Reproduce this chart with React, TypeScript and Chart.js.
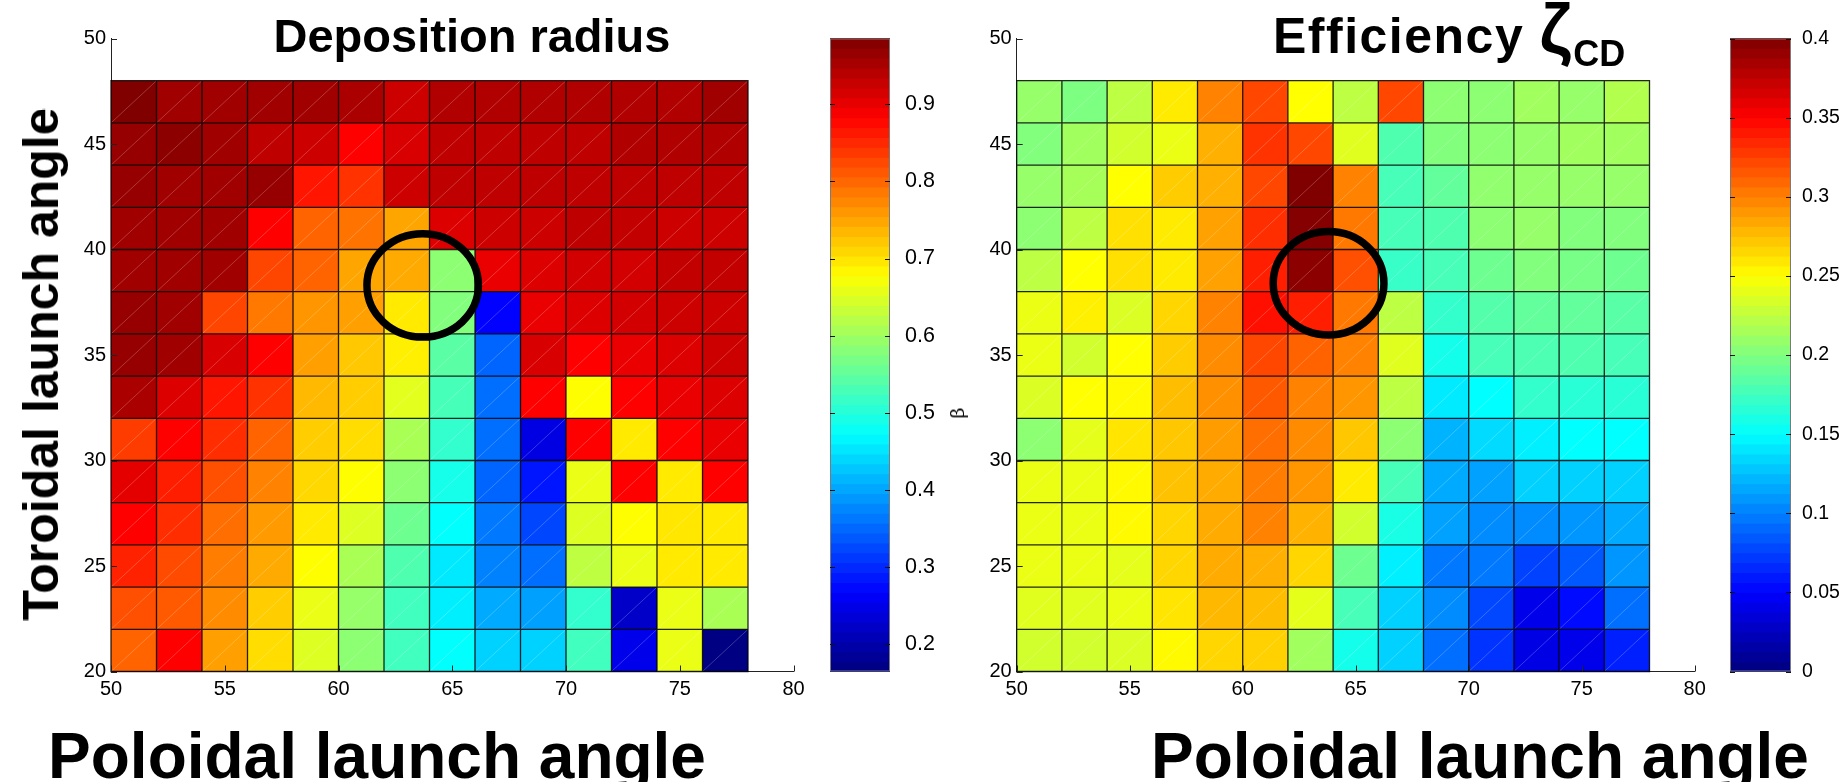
import React, { useEffect, useRef } from "react";
import { Chart, registerables } from "chart.js";

Chart.register(...registerables);

// ---------------- data ----------------
const polAngles = [50, 52, 54, 56, 58, 60, 62, 64, 66, 68, 70, 72, 74, 76]; // cell start (deg)
const torAngles = [46, 44, 42, 40, 38, 36, 34, 32, 30, 28, 26, 24, 22, 20]; // cell start, top -> bottom
const cellStep = 2;

const xTicks = [50, 55, 60, 65, 70, 75, 80];
const yTicks = [20, 25, 30, 35, 40, 45, 50];

const depositionRadius = [
  [0.985, 0.959, 0.959, 0.959, 0.959, 0.951, 0.923, 0.946, 0.946, 0.946, 0.946, 0.946, 0.946, 0.959],
  [0.967, 0.975, 0.959, 0.935, 0.923, 0.883, 0.914, 0.935, 0.935, 0.935, 0.935, 0.946, 0.946, 0.946],
  [0.967, 0.959, 0.959, 0.967, 0.866, 0.842, 0.923, 0.935, 0.935, 0.935, 0.935, 0.935, 0.935, 0.935],
  [0.959, 0.959, 0.959, 0.883, 0.802, 0.790, 0.750, 0.910, 0.923, 0.923, 0.935, 0.931, 0.923, 0.923],
  [0.959, 0.959, 0.959, 0.826, 0.802, 0.750, 0.746, 0.585, 0.899, 0.910, 0.919, 0.919, 0.931, 0.931],
  [0.967, 0.959, 0.826, 0.786, 0.762, 0.754, 0.694, 0.577, 0.268, 0.899, 0.910, 0.919, 0.923, 0.923],
  [0.967, 0.959, 0.914, 0.883, 0.754, 0.722, 0.690, 0.545, 0.348, 0.914, 0.883, 0.899, 0.910, 0.923],
  [0.951, 0.910, 0.866, 0.842, 0.734, 0.718, 0.654, 0.529, 0.356, 0.883, 0.678, 0.883, 0.899, 0.910],
  [0.834, 0.883, 0.846, 0.802, 0.718, 0.705, 0.609, 0.513, 0.356, 0.244, 0.883, 0.694, 0.883, 0.899],
  [0.903, 0.859, 0.819, 0.778, 0.709, 0.678, 0.585, 0.489, 0.348, 0.284, 0.661, 0.883, 0.694, 0.883],
  [0.883, 0.846, 0.794, 0.758, 0.694, 0.650, 0.561, 0.473, 0.364, 0.324, 0.650, 0.678, 0.697, 0.694],
  [0.855, 0.822, 0.782, 0.746, 0.678, 0.609, 0.536, 0.456, 0.372, 0.356, 0.625, 0.661, 0.694, 0.694],
  [0.819, 0.810, 0.770, 0.718, 0.661, 0.593, 0.525, 0.460, 0.404, 0.396, 0.513, 0.223, 0.661, 0.609],
  [0.802, 0.883, 0.754, 0.705, 0.650, 0.585, 0.525, 0.473, 0.436, 0.436, 0.525, 0.251, 0.661, 0.167],
];

const efficiencyZeta = [
  [0.209, 0.199, 0.224, 0.258, 0.299, 0.322, 0.250, 0.224, 0.322, 0.205, 0.205, 0.213, 0.209, 0.220],
  [0.201, 0.213, 0.232, 0.242, 0.281, 0.330, 0.322, 0.238, 0.181, 0.201, 0.205, 0.209, 0.213, 0.213],
  [0.209, 0.215, 0.250, 0.270, 0.281, 0.322, 0.400, 0.299, 0.178, 0.189, 0.207, 0.209, 0.209, 0.209],
  [0.205, 0.224, 0.262, 0.258, 0.287, 0.332, 0.398, 0.303, 0.178, 0.181, 0.205, 0.209, 0.201, 0.201],
  [0.224, 0.250, 0.262, 0.258, 0.287, 0.338, 0.395, 0.319, 0.172, 0.178, 0.193, 0.201, 0.197, 0.193],
  [0.242, 0.256, 0.236, 0.266, 0.299, 0.344, 0.338, 0.303, 0.224, 0.170, 0.183, 0.189, 0.189, 0.185],
  [0.242, 0.232, 0.250, 0.270, 0.295, 0.322, 0.311, 0.299, 0.238, 0.158, 0.178, 0.180, 0.181, 0.178],
  [0.236, 0.250, 0.252, 0.276, 0.293, 0.315, 0.299, 0.291, 0.224, 0.142, 0.150, 0.170, 0.166, 0.166],
  [0.205, 0.240, 0.260, 0.272, 0.289, 0.307, 0.295, 0.272, 0.205, 0.120, 0.136, 0.144, 0.150, 0.150],
  [0.242, 0.242, 0.252, 0.274, 0.283, 0.301, 0.291, 0.258, 0.178, 0.117, 0.113, 0.132, 0.132, 0.132],
  [0.242, 0.242, 0.252, 0.266, 0.283, 0.299, 0.280, 0.232, 0.160, 0.113, 0.105, 0.105, 0.109, 0.117],
  [0.242, 0.242, 0.240, 0.266, 0.283, 0.281, 0.266, 0.193, 0.144, 0.097, 0.097, 0.076, 0.085, 0.109],
  [0.238, 0.238, 0.242, 0.260, 0.278, 0.276, 0.240, 0.178, 0.132, 0.105, 0.078, 0.042, 0.054, 0.093],
  [0.232, 0.232, 0.236, 0.252, 0.266, 0.268, 0.213, 0.158, 0.132, 0.093, 0.070, 0.040, 0.042, 0.062],
];

const depRange = [0.165, 0.985];
const effRange = [0, 0.4];
const depCbTicks = [0.2, 0.3, 0.4, 0.5, 0.6, 0.7, 0.8, 0.9];
const effCbTicks = [0, 0.05, 0.1, 0.15, 0.2, 0.25, 0.3, 0.35, 0.4];
// highlight circles: [centre pol, centre tor, radius] in degrees
const depCircle = [63.7, 38.3, 2.45];
const effCircle = [63.8, 38.4, 2.45];

// ---------------- layout ----------------
const W = 1839;
const H = 782;
const AREA_TOP = 38.5;
const AREA_BOTTOM = 671.5;

const tickFont = { family: "'Liberation Sans', Arial, sans-serif", size: 20 };

function jet(t: number): string {
  t = Math.max(0, Math.min(1, t));
  const c = (v: number) => Math.round(255 * Math.max(0, Math.min(1, v)));
  return `rgb(${c(1.5 - Math.abs(4 * t - 3))},${c(1.5 - Math.abs(4 * t - 2))},${c(1.5 - Math.abs(4 * t - 1))})`;
}

function cellPoints(values: number[][]) {
  const pts: { x: number; y: number; v: number }[] = [];
  torAngles.forEach((ty, r) =>
    polAngles.forEach((px, c) => pts.push({ x: px + cellStep / 2, y: ty + cellStep / 2, v: values[r][c] }))
  );
  return pts;
}

const heatPlugin = {
  id: "heat",
  beforeDatasetsDraw(chart: any, _a: any, opts: any) {
    const { ctx } = chart;
    const xs = chart.scales.x;
    const ys = chart.scales.y;
    const pts = chart.data.datasets[0].data;
    const half = cellStep / 2;
    ctx.save();
    pts.forEach((p: any) => {
      const x0 = xs.getPixelForValue(p.x - half);
      const x1 = xs.getPixelForValue(p.x + half);
      const y0 = ys.getPixelForValue(p.y + half);
      const y1 = ys.getPixelForValue(p.y - half);
      ctx.fillStyle = jet((p.v - opts.lo) / (opts.hi - opts.lo));
      ctx.fillRect(x0, y0, x1 - x0, y1 - y0);
    });
    // faint triangle diagonals
    ctx.strokeStyle = "rgba(255,255,255,0.22)";
    ctx.lineWidth = 1;
    ctx.beginPath();
    pts.forEach((p: any) => {
      ctx.moveTo(xs.getPixelForValue(p.x - half), ys.getPixelForValue(p.y - half));
      ctx.lineTo(xs.getPixelForValue(p.x + half), ys.getPixelForValue(p.y + half));
    });
    ctx.stroke();
    // cell edges
    ctx.strokeStyle = "rgba(0,0,0,0.85)";
    ctx.lineWidth = 1.3;
    ctx.beginPath();
    pts.forEach((p: any) => {
      const x0 = xs.getPixelForValue(p.x - half);
      const x1 = xs.getPixelForValue(p.x + half);
      const y0 = ys.getPixelForValue(p.y + half);
      const y1 = ys.getPixelForValue(p.y - half);
      ctx.rect(x0, y0, x1 - x0, y1 - y0);
    });
    ctx.stroke();
    ctx.restore();
  },
  afterDatasetsDraw(chart: any, _a: any, opts: any) {
    const { ctx } = chart;
    const xs = chart.scales.x;
    const ys = chart.scales.y;
    const [cx, cy, r] = opts.circle;
    const px = xs.getPixelForValue(cx);
    const py = ys.getPixelForValue(cy);
    const rx = Math.abs(xs.getPixelForValue(cx + r) - px);
    const ry = Math.abs(ys.getPixelForValue(cy + r) - py);
    ctx.save();
    ctx.strokeStyle = "#000";
    ctx.lineWidth = 7.5;
    ctx.beginPath();
    ctx.ellipse(px, py, rx, ry, 0, 0, Math.PI * 2);
    ctx.stroke();
    // inward tick marks
    const area = chart.chartArea;
    ctx.lineWidth = 1;
    ctx.strokeStyle = "#222";
    ctx.beginPath();
    xTicks.forEach((v) => {
      const x = Math.round(xs.getPixelForValue(v)) + 0.5;
      ctx.moveTo(x, area.bottom);
      ctx.lineTo(x, area.bottom - 6);
    });
    yTicks.forEach((v) => {
      const y = Math.round(ys.getPixelForValue(v)) + 0.5;
      ctx.moveTo(area.left, y);
      ctx.lineTo(area.left + 6, y);
    });
    ctx.stroke();
    ctx.restore();
  },
};

const cbPlugin = {
  id: "cbar",
  beforeDatasetsDraw(chart: any, _a: any, opts: any) {
    const { ctx, chartArea: a } = chart;
    const ys = chart.scales.y;
    const n = 64;
    ctx.save();
    for (let i = 0; i < n; i++) {
      const v0 = opts.lo + ((opts.hi - opts.lo) * i) / n;
      const v1 = opts.lo + ((opts.hi - opts.lo) * (i + 1)) / n;
      const yb = ys.getPixelForValue(v0);
      const yt = ys.getPixelForValue(v1);
      ctx.fillStyle = jet((i + 0.5) / n);
      ctx.fillRect(a.left, yt - 0.5, a.right - a.left, yb - yt + 1);
    }
    ctx.strokeStyle = "#7a7a7a";
    ctx.lineWidth = 1;
    ctx.strokeRect(a.left + 0.5, a.top + 0.5, a.right - a.left - 1, a.bottom - a.top - 1);
    ctx.strokeStyle = "#111";
    ctx.beginPath();
    opts.ticks.forEach((v: number) => {
      const y = Math.round(ys.getPixelForValue(v)) + 0.5;
      ctx.moveTo(a.left, y);
      ctx.lineTo(a.left + 5, y);
      ctx.moveTo(a.right, y);
      ctx.lineTo(a.right - 5, y);
    });
    ctx.stroke();
    ctx.restore();
  },
};

function mainConfig(values: number[][], range: number[], circle: number[], yAxisWidth: number, padRight: number): any {
  return {
    type: "scatter",
    data: { datasets: [{ data: cellPoints(values), pointRadius: 0, pointHoverRadius: 0 }] },
    options: {
      responsive: false,
      animation: false,
      events: [],
      layout: { padding: { left: 0, right: padRight, top: AREA_TOP, bottom: 0 } },
      plugins: {
        legend: { display: false },
        tooltip: { enabled: false },
        heat: { lo: range[0], hi: range[1], circle },
      },
      scales: {
        x: {
          type: "linear",
          min: xTicks[0],
          max: xTicks[xTicks.length - 1],
          afterBuildTicks: (s: any) => {
            s.ticks = xTicks.map((v) => ({ value: v }));
          },
          afterFit: (s: any) => {
            s.height = H - AREA_BOTTOM;
          },
          grid: { display: false, drawTicks: false },
          border: { display: true, color: "#222", width: 1 },
          ticks: { color: "#000", font: tickFont, padding: 6, maxRotation: 0, autoSkip: false },
        },
        y: {
          type: "linear",
          min: yTicks[0],
          max: yTicks[yTicks.length - 1],
          afterBuildTicks: (s: any) => {
            s.ticks = yTicks.map((v) => ({ value: v }));
          },
          afterFit: (s: any) => {
            s.width = yAxisWidth;
          },
          grid: { display: false, drawTicks: false },
          border: { display: true, color: "#222", width: 1 },
          ticks: { color: "#000", font: tickFont, padding: 5, autoSkip: false },
        },
      },
    },
    plugins: [heatPlugin],
  };
}

function cbConfig(range: number[], ticks: number[], padLeft: number, axisWidth: number, fontSize: number, labelPad: number): any {
  return {
    type: "scatter",
    data: { datasets: [{ data: [] }] },
    options: {
      responsive: false,
      animation: false,
      events: [],
      layout: { padding: { left: padLeft, right: 0, top: AREA_TOP, bottom: H - AREA_BOTTOM } },
      plugins: {
        legend: { display: false },
        tooltip: { enabled: false },
        cbar: { lo: range[0], hi: range[1], ticks },
      },
      scales: {
        x: { display: false, min: 0, max: 1 },
        y: {
          position: "right",
          min: range[0],
          max: range[1],
          afterBuildTicks: (s: any) => {
            s.ticks = ticks.map((v) => ({ value: v }));
          },
          afterFit: (s: any) => {
            s.width = axisWidth;
          },
          grid: { display: false, drawTicks: false },
          border: { display: false },
          ticks: {
            color: "#000",
            font: { family: "'Liberation Sans', Arial, sans-serif", size: fontSize },
            padding: labelPad,
            autoSkip: false,
            callback: (v: number) => String(+Number(v).toFixed(3)),
          },
        },
      },
    },
    plugins: [cbPlugin],
  };
}

const labelFont = "'Liberation Sans', Arial, sans-serif";

export default function App() {
  const c1 = useRef<HTMLCanvasElement>(null);
  const c2 = useRef<HTMLCanvasElement>(null);
  const c3 = useRef<HTMLCanvasElement>(null);
  const c4 = useRef<HTMLCanvasElement>(null);

  useEffect(() => {
    const charts = [
      new Chart(c1.current!, mainConfig(depositionRadius, depRange, depCircle, 111, 830 - 793.5)),
      new Chart(c2.current!, cbConfig(depRange, depCbTicks, 10, 60, 21.5, 15)),
      new Chart(c3.current!, mainConfig(efficiencyZeta, effRange, effCircle, 116.7, 1730 - 1694.7)),
      new Chart(c4.current!, cbConfig(effRange, effCbTicks, 10, 48, 19.5, 11)),
    ];
    return () => charts.forEach((c) => c.destroy());
  }, []);

  const abs = (left: number, top: number, w: number, h: number): React.CSSProperties => ({
    position: "absolute",
    left,
    top,
    width: w,
    height: h,
  });

  const text = (extra: React.CSSProperties): React.CSSProperties => ({
    position: "absolute",
    lineHeight: "1",
    whiteSpace: "nowrap",
    color: "#000",
    ...extra,
  });

  return (
    <div style={{ position: "fixed", left: 0, top: 0, width: W, height: H, background: "#fff", overflow: "hidden" }}>
      <canvas ref={c1} width={830} height={H} style={abs(0, 0, 830, H)} />
      <canvas ref={c2} width={130} height={H} style={abs(820, 0, 130, H)} />
      <canvas ref={c3} width={830} height={H} style={abs(900, 0, 830, H)} />
      <canvas ref={c4} width={119} height={H} style={abs(1720, 0, 119, H)} />

      {/* titles */}
      <div style={text({ left: 472, top: 8, transform: "translateX(-50%)", font: `bold 47px ${labelFont}` })}>
        Deposition radius
      </div>
      <div style={text({ left: 1273, top: 7, font: `bold 50px ${labelFont}`, letterSpacing: "1.5px" })}>
        Efficiency <span style={{ fontSize: 70, lineHeight: "0" }}>ζ</span>
        <span style={{ fontSize: 36, lineHeight: "0", position: "relative", top: 13, letterSpacing: 0 }}>CD</span>
      </div>

      {/* x labels */}
      <div style={text({ left: 377, top: 719, transform: "translateX(-50%)", font: `bold 64px ${labelFont}` })}>
        Poloidal launch angle
      </div>
      <div style={text({ left: 1480, top: 719, transform: "translateX(-50%)", font: `bold 64px ${labelFont}` })}>
        Poloidal launch angle
      </div>

      {/* y labels */}
      <div
        style={text({
          left: 41,
          top: 364,
          transform: "translate(-50%, -50%) rotate(-90deg)",
          font: `bold 50px ${labelFont}`,
        })}
      >
        Toroidal launch angle
      </div>
      <div
        style={text({
          left: 957,
          top: 413,
          transform: "translate(-50%, -50%) rotate(-90deg)",
          font: `19px 'DejaVu Serif', serif`,
        })}
      >
        β
      </div>
    </div>
  );
}
